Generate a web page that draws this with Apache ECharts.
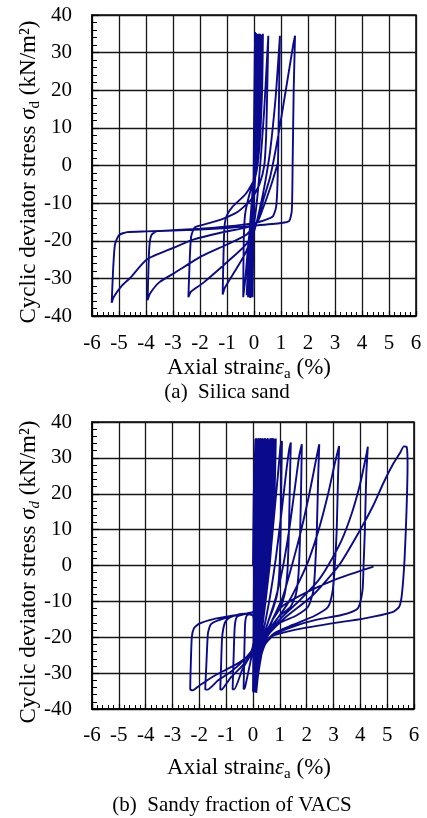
<!DOCTYPE html>
<html>
<head>
<meta charset="utf-8">
<script src="https://cdn.jsdelivr.net/npm/echarts@6/dist/echarts.min.js"></script>
<style>
  html, body { margin: 0; padding: 0; background: #fff; }
  #chart { width: 427px; height: 818px; }
</style>
</head>
<body>
<div id="chart"></div>
<script>
// Axis ranges shared by both panels
const strainRange = [-6, 6];
const stressRange = [-40, 40];

// (a) Silica sand: [axial strain %, deviator stress kN/m2], in test order
const silicaSmallCycles = [
  [0, 0], [0.02, 20], [0.04, 35.5],
  [0.0, 10], [-0.03, -15], [-0.05, -35],
  [-0.02, -15], [0.02, 10], [0.07, 35.2],
  [0.03, 10], [-0.04, -15], [-0.08, -34.8],
  [-0.04, -15], [0.03, 10], [0.10, 35],
  [0.05, 10], [-0.05, -15], [-0.11, -35],
  [-0.06, -15], [0.04, 10], [0.14, 35],
  [0.08, 10], [-0.06, -15], [-0.14, -35.2],
  [-0.08, -15], [0.06, 10], [0.18, 35],
  [0.10, 10], [-0.08, -16], [-0.18, -35],
  [-0.10, -16], [0.08, 10], [0.22, 34.8],
  [0.12, 10], [-0.10, -16], [-0.22, -35],
  [-0.12, -16], [0.10, 10], [0.26, 34.8],
  [0.15, 10], [-0.12, -14], [-0.27, -34.5],
  [-0.15, -16], [0.12, 10], [0.30, 34.6]
];
const silicaGrowingLoops = [
  [0.20, 12], [0.05, -2], [-0.20, -8.5], [-0.33, -13], [-0.38, -20], [-0.40, -35],
  [-0.32, -30], [-0.20, -20], [0.0, -8], [0.15, 10], [0.30, 30], [0.33, 35],
  [0.30, 20], [0.20, 5], [0.05, -3], [-0.30, -7.5], [-0.80, -11], [-1.02, -13.5], [-1.10, -17], [-1.16, -34.3],
  [-1.08, -32.5], [-0.70, -28], [-0.30, -23], [-0.05, -17.5], [0.10, -10], [0.25, 2], [0.38, 15], [0.48, 28], [0.53, 34.5],
  [0.49, 20], [0.45, 8], [0.38, 0], [0.20, -5], [-0.10, -9], [-0.60, -12.3], [-1.2, -14.3], [-1.8, -15.6], [-2.2, -16.5], [-2.33, -19], [-2.38, -25], [-2.43, -35],
  [-2.33, -33.5], [-1.88, -31.2], [-0.89, -25], [-0.30, -21], [0.0, -17.5], [0.20, -12], [0.40, -5], [0.60, 4], [0.80, 18], [0.92, 30], [0.96, 34.5],
  [0.93, 20], [0.90, 5], [0.87, -5], [0.82, -11], [0.70, -13.5], [0.40, -14.5], [0.0, -15.3], [-1.0, -16.2], [-2.0, -16.8], [-3.0, -17.2], [-3.6, -17.5], [-3.8, -18.5], [-3.88, -22], [-3.94, -35.8],
  [-3.85, -34], [-3.5, -31], [-2.93, -28.5], [-1.94, -24.1], [-1.0, -21], [-0.30, -18.5], [0.10, -15], [0.35, -9], [0.60, -3], [0.90, 8], [1.20, 21], [1.45, 32], [1.52, 34.5],
  [1.47, 20], [1.43, 0], [1.40, -12], [1.30, -14.8], [1.0, -15.3], [0.0, -16], [-1.0, -16.6], [-2.0, -17], [-3.0, -17.3], [-4.0, -17.5], [-4.7, -17.7], [-5.0, -18.5], [-5.15, -21], [-5.22, -28], [-5.27, -36.5],
  [-5.2, -35], [-4.9, -32], [-4.59, -29.9], [-3.97, -25], [-2.99, -21.9], [-2.25, -19.7], [-1.2, -17.8], [-0.30, -16.5], [0.10, -15.3], [0.30, -12], [0.60, -6], [0.90, 1]
];

// (b) Sandy fraction of VACS: [axial strain %, deviator stress kN/m2], in test order
const vacsSmallCycles = [
  [0, 0], [0.03, 20], [0.09, 35.3],
  [0.07, 20], [0.04, 0], [0.02, -20], [0.0, -35],
  [0.02, -20], [0.05, 0], [0.08, 20], [0.12, 35.5],
  [0.10, 20], [0.06, 0], [0.03, -20], [0.01, -35.2],
  [0.04, -20], [0.07, 0], [0.11, 20], [0.16, 35.2],
  [0.13, 20], [0.08, 0], [0.04, -20], [0.02, -35.4],
  [0.05, -20], [0.09, 0], [0.14, 20], [0.20, 35.5],
  [0.16, 20], [0.10, 0], [0.05, -20], [0.02, -35],
  [0.06, -20], [0.11, 0], [0.17, 20], [0.24, 35.3],
  [0.20, 20], [0.13, 0], [0.06, -20], [0.03, -35.3],
  [0.08, -20], [0.14, 0], [0.20, 20], [0.28, 35.5]
];
const vacsExtensionLoops = [
  [0.24, 20], [0.15, 0], [0.07, -18], [0.0, -14], [-0.15, -13.6], [-0.25, -14.2], [-0.30, -17], [-0.35, -34.5],
  [-0.30, -34], [-0.10, -27], [0.0, -23], [0.10, -17], [0.17, 0], [0.24, 20], [0.32, 35.3],
  [0.28, 20], [0.18, 0], [0.08, -17], [0.0, -13], [-0.30, -13.5], [-0.60, -14.3], [-0.68, -17], [-0.72, -25], [-0.76, -34.5],
  [-0.70, -34.5], [-0.40, -29], [-0.10, -25], [0.03, -21], [0.12, -12], [0.20, 0], [0.28, 20], [0.36, 35.5],
  [0.32, 20], [0.22, 0], [0.10, -10], [0.0, -13], [-0.50, -13.6], [-0.90, -14.6], [-1.05, -16], [-1.15, -20], [-1.19, -28], [-1.22, -34.6],
  [-1.15, -34.5], [-0.80, -31], [-0.40, -28], [-0.05, -24], [0.06, -19], [0.15, -8], [0.23, 0], [0.32, 20], [0.40, 35.3],
  [0.36, 20], [0.25, 0], [0.10, -10], [0.0, -13], [-0.70, -14], [-1.30, -15.3], [-1.58, -16.5], [-1.68, -19], [-1.74, -28], [-1.78, -34.5],
  [-1.70, -34.6], [-1.30, -32], [-0.80, -29.5], [-0.30, -26], [0.0, -23], [0.10, -16], [0.18, -6], [0.27, 0], [0.36, 20], [0.45, 35.5],
  [0.40, 20], [0.28, 0], [0.12, -10], [0.0, -13], [-0.72, -13.9], [-1.5, -15], [-2.0, -16.2], [-2.2, -17.5], [-2.28, -20], [-2.32, -28], [-2.34, -34.5],
  [-2.25, -34.8], [-2.0, -33.5], [-1.5, -31], [-1.0, -29], [-0.5, -27], [-0.10, -24.5], [0.05, -21], [0.15, -10], [0.30, 0], [0.40, 20], [0.50, 35.3],
  [0.45, 20], [0.32, 0], [0.15, -12], [0.07, -22], [0.04, -35],
  [0.10, -20], [0.35, 0], [0.45, 20], [0.55, 35.5],
  [0.50, 20], [0.36, 0], [0.14, -20], [0.05, -35.2],
  [0.12, -20], [0.38, 0], [0.50, 20], [0.60, 35.2],
  [0.55, 20], [0.40, 0], [0.16, -20], [0.06, -35.4],
  [0.15, -20], [0.42, 0], [0.55, 20], [0.65, 35.5],
  [0.60, 20], [0.44, 0], [0.18, -20], [0.06, -35],
  [0.17, -20], [0.46, 0], [0.60, 20], [0.70, 35.3],
  [0.65, 20], [0.48, 0], [0.20, -20], [0.07, -35.3],
  [0.19, -20], [0.50, 0], [0.65, 20], [0.75, 35.5],
  [0.70, 20], [0.52, 0], [0.22, -20], [0.08, -35.2],
  [0.22, -20], [0.54, 0], [0.70, 20], [0.80, 35.3],
  [0.75, 20], [0.56, 0], [0.25, -20], [0.08, -35.4],
  [0.25, -20], [0.60, 0], [0.75, 20], [0.85, 35.4],
  [0.80, 20], [0.62, 0], [0.30, -20], [0.06, -35.2]
];
const vacsCompressionLoops = [
  [0.10, -30], [0.20, -24], [0.35, -17], [0.50, -8], [0.65, 3], [0.80, 15], [0.95, 27], [1.03, 33.5], [1.08, 34.7],
  [1.06, 25], [1.03, 10], [0.98, -2], [0.90, -8], [0.75, -12], [0.55, -16], [0.40, -20], [0.20, -26], [0.08, -35.3],
  [0.12, -30], [0.25, -23], [0.45, -16], [0.65, -8], [0.85, 2], [1.05, 14], [1.22, 25], [1.35, 32.5], [1.41, 34.3],
  [1.38, 25], [1.34, 10], [1.28, -2], [1.18, -8], [1.0, -12], [0.70, -15.5], [0.50, -19], [0.25, -25], [0.10, -35],
  [0.13, -30], [0.30, -22], [0.55, -16], [0.85, -9], [1.10, -1], [1.35, 10], [1.55, 21], [1.72, 30.5], [1.82, 33.8],
  [1.80, 25], [1.76, 10], [1.70, -2], [1.60, -8], [1.40, -11.5], [1.0, -14], [0.65, -17.5], [0.40, -21], [0.20, -27], [0.09, -35.2],
  [0.15, -29], [0.35, -21], [0.70, -15.5], [1.10, -9], [1.45, 0], [1.80, 10], [2.10, 20], [2.35, 29.5], [2.47, 33.8],
  [2.43, 25], [2.38, 10], [2.32, 0], [2.25, -7], [2.05, -11.5], [1.60, -14], [1.0, -16], [0.60, -19], [0.35, -22.5], [0.18, -28], [0.10, -35.3],
  [0.17, -29], [0.40, -21], [0.80, -16], [1.30, -10.5], [1.75, -4], [2.10, 2], [2.45, 10], [2.80, 20], [3.05, 28.5], [3.21, 33.3],
  [3.17, 25], [3.12, 10], [3.05, 0], [2.97, -7], [2.80, -11.5], [2.30, -14], [1.50, -16.5], [0.80, -18.8], [0.40, -22], [0.20, -28], [0.10, -35],
  [0.18, -29], [0.45, -20.5], [1.0, -15], [1.70, -10], [2.40, -4.5], [2.80, 0], [3.30, 7], [3.70, 15], [4.0, 23], [4.20, 30], [4.28, 33.1],
  [4.22, 25], [4.17, 10], [4.12, 0], [4.08, -7], [3.90, -12], [3.30, -13.8], [2.38, -15.1], [1.50, -17], [0.80, -19.2], [0.45, -22], [0.20, -28], [0.12, -35.3],
  [0.20, -29], [0.50, -20], [1.20, -14.5], [2.20, -8.5], [3.20, 0], [4.0, 10], [4.50, 17], [4.86, 23], [5.20, 28], [5.49, 31.5], [5.62, 33.2], [5.73, 33],
  [5.76, 28], [5.72, 15], [5.65, 2], [5.55, -8], [5.45, -11.5], [5.20, -13], [4.12, -14.8], [2.88, -16.2], [1.51, -18], [0.65, -19.9], [0.35, -23], [0.18, -29], [0.12, -35.5],
  [0.20, -30], [0.40, -22], [0.80, -14], [1.14, -11.1], [2.01, -7.4], [3.13, -3.7], [4.49, -0.3]
];

const silicaPath = silicaSmallCycles.concat(silicaGrowingLoops);
const vacsPath = vacsSmallCycles.concat(vacsExtensionLoops, vacsCompressionLoops);

const SERIF = "'Liberation Serif', 'DejaVu Serif', serif";
const INK = '#0a0a8c';

// Rich-text styles for axis titles (zrender text props)
const titleRich = {
  n: { fontFamily: SERIF, fontSize: 23, fill: '#000', lineHeight: 28, verticalAlign: 'middle' },
  i: { fontFamily: SERIF, fontSize: 23, fontStyle: 'italic', fill: '#000', lineHeight: 28, verticalAlign: 'middle' },
  s: { fontFamily: SERIF, fontSize: 15, fill: '#000', lineHeight: 15, verticalAlign: 'bottom' },
  si: { fontFamily: SERIF, fontSize: 15, fontStyle: 'italic', fill: '#000', lineHeight: 15, verticalAlign: 'bottom' }
};
const strainTitle = '{n|Axial strain}{i|ε}{s|a}{n| (%)}';
const stressTitleA = '{n|Cyclic deviator stress }{i|σ}{s|d}{n| (kN/m²)}';
const stressTitleB = '{n|Cyclic deviator stress }{i|σ}{si|d}{n| (kN/m²)}';

function xAxisCfg(gridIndex) {
  return {
    gridIndex, type: 'value', min: strainRange[0], max: strainRange[1], interval: 1,
    axisLine: { show: true, onZero: false, lineStyle: { color: '#000', width: 1.5 } },
    axisTick: { show: true, inside: true, length: 5, lineStyle: { color: '#000', width: 1.2 } },
    minorTick: { show: true, splitNumber: 5, length: 4, lineStyle: { color: '#000', width: 1 } },
    splitLine: { show: true, lineStyle: { color: '#161616', width: 1.3 } },
    axisLabel: { fontFamily: SERIF, fontSize: 21, color: '#000', margin: gridIndex === 0 ? 17 : 16 }
  };
}

function yAxisCfg(gridIndex) {
  return {
    gridIndex, type: 'value', min: stressRange[0], max: stressRange[1], interval: 10,
    axisLine: { show: true, onZero: false, lineStyle: { color: '#000', width: 1.5 } },
    axisTick: { show: true, inside: true, length: 7, lineStyle: { color: '#000', width: 1.2 } },
    minorTick: { show: true, splitNumber: 5, length: 5, lineStyle: { color: '#000', width: 1 } },
    splitLine: { show: true, lineStyle: { color: '#161616', width: 1.3 } },
    axisLabel: { fontFamily: SERIF, fontSize: 21, color: '#000', margin: 20 }
  };
}

function title(x, y, text, rotated) {
  return {
    type: 'text', x, y, rotation: rotated ? Math.PI / 2 : 0,
    style: { text, rich: titleRich, align: 'center', verticalAlign: 'middle' }
  };
}

const chart = echarts.init(document.getElementById('chart'), null, { renderer: 'canvas' });
chart.setOption({
  animation: false,
  backgroundColor: '#fff',
  grid: [
    { left: 92, top: 15, width: 324, height: 301, show: true, borderColor: '#000', borderWidth: 1.5, backgroundColor: 'transparent' },
    { left: 92, top: 422, width: 322, height: 287, show: true, borderColor: '#000', borderWidth: 1.5, backgroundColor: 'transparent' }
  ],
  xAxis: [xAxisCfg(0), xAxisCfg(1)],
  yAxis: [yAxisCfg(0), yAxisCfg(1)],
  series: [
    {
      type: 'line', xAxisIndex: 0, yAxisIndex: 0, data: silicaPath,
      showSymbol: false, smooth: 0.2, lineStyle: { color: INK, width: 1.9 }, z: 5
    },
    {
      type: 'line', xAxisIndex: 1, yAxisIndex: 1, data: vacsPath,
      showSymbol: false, smooth: 0.2, lineStyle: { color: INK, width: 1.9 }, z: 5
    }
  ],
  graphic: [
    title(249, 368, strainTitle, false),
    title(249, 768, strainTitle, false),
    title(29, 172, stressTitleA, true),
    title(29, 572, stressTitleB, true),
    { type: 'text', x: 227, y: 392, style: { text: '(a)  Silica sand', font: "21px 'Liberation Serif'", fill: '#000', align: 'center', verticalAlign: 'middle' } },
    { type: 'text', x: 232, y: 805, style: { text: '(b)  Sandy fraction of VACS', font: "21px 'Liberation Serif'", fill: '#000', align: 'center', verticalAlign: 'middle' } }
  ]
});
</script>
</body>
</html>
